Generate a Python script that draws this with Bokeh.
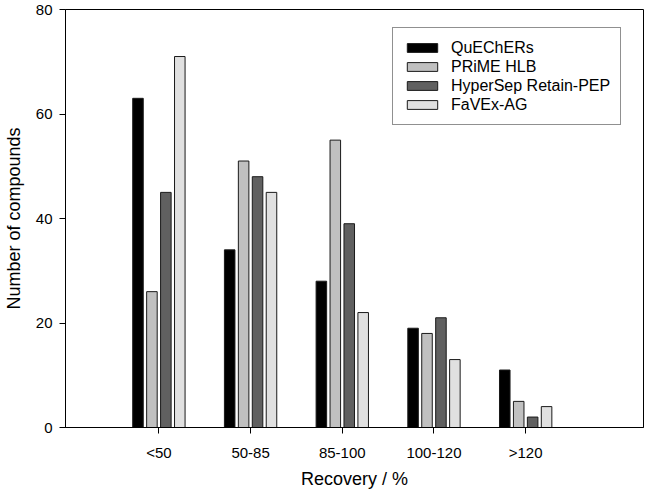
from bokeh.plotting import figure
from bokeh.models import Range1d, FixedTicker, Legend, LegendItem, ColumnDataSource
from bokeh.transform import dodge
from bokeh.embed import file_html
from bokeh.resources import INLINE

categories = ["<50", "50-85", "85-100", "100-120", ">120"]
series_names = ["QuEChERs", "PRiME HLB", "HyperSep Retain-PEP", "FaVEx-AG"]
quechers = [63, 34, 28, 19, 11]
prime_hlb = [26, 51, 55, 18, 5]
hypersep = [45, 48, 39, 21, 2]
favex = [71, 45, 22, 13, 4]
y_ticks = [0, 20, 40, 60, 80]

colors = ["#000000", "#c0c0c0", "#606060", "#e0e0e0"]
fields = ["q", "p", "h", "f"]
positions = list(range(1, len(categories) + 1))

src = ColumnDataSource(dict(pos=positions, q=quechers, p=prime_hlb, h=hypersep, f=favex))

FONT = "Liberation Sans"

p = figure(frame_width=578, frame_height=418,
           x_range=Range1d(-0.0185, 6.285), y_range=Range1d(0, 80),
           output_backend="svg", toolbar_location=None,
           min_border_left=62, min_border_right=1, min_border_top=9, min_border_bottom=60)

pitch = 0.152
renderers = []
for i, (fld, col) in enumerate(zip(fields, colors)):
    off = (i - 1.5) * pitch
    r = p.vbar(x=dodge("pos", off), top=fld, width=0.115, bottom=0, source=src,
               fill_color=col, line_color="#1a1a1a", line_width=1)
    renderers.append(r)

p.xgrid.visible = False
p.ygrid.visible = False
p.outline_line_color = "#000000"
p.outline_line_width = 1
p.background_fill_color = "white"
p.border_fill_color = "white"

p.xaxis.ticker = FixedTicker(ticks=positions)
p.xaxis.major_label_overrides = {pos: lab for pos, lab in zip(positions, categories)}
p.yaxis.ticker = FixedTicker(ticks=y_ticks)

for ax in (p.xaxis[0], p.yaxis[0]):
    ax.axis_line_color = "#000000"
    ax.axis_line_width = 1
    ax.major_tick_line_color = "#000000"
    ax.major_tick_out = 6
    ax.major_tick_in = 0
    ax.minor_tick_line_color = None
    ax.major_label_text_font = FONT
    ax.major_label_text_font_size = "15px"
    ax.major_label_text_color = "#000000"
    ax.axis_label_text_font = FONT
    ax.axis_label_text_font_size = "18px"
    ax.axis_label_text_font_style = "normal"
    ax.axis_label_text_color = "#000000"

p.xaxis.axis_label = "Recovery / %"
p.yaxis.axis_label = "Number of compounds"
p.xaxis.major_label_standoff = 10
p.xaxis.axis_label_standoff = 5
p.yaxis.major_label_standoff = 7
p.yaxis.axis_label_standoff = 9

legend = Legend(items=[LegendItem(label=n, renderers=[r]) for n, r in zip(series_names, renderers)],
                location=(327, 302), orientation="vertical")
legend.glyph_width = 38
legend.glyph_height = 11
legend.label_height = 19
legend.spacing = 0
legend.padding = 10
legend.margin = 0
legend.label_standoff = 10
legend.label_text_font = FONT
legend.label_text_font_size = "16px"
legend.label_text_color = "#000000"
legend.border_line_color = "#222222"
legend.border_line_width = 1
legend.background_fill_color = "white"
legend.background_fill_alpha = 1
p.add_layout(legend, "center")

open("out.html", "w").write(file_html(p, INLINE))
